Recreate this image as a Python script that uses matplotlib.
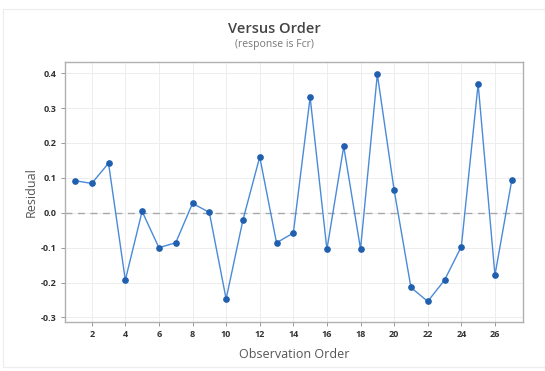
import matplotlib
matplotlib.use("Agg")
import matplotlib.pyplot as plt
from matplotlib.patches import Rectangle

order = list(range(1, 28))
residuals = [0.092, 0.084, 0.142, -0.193, 0.004, -0.100, -0.086, 0.027, 0.001,
             -0.247, -0.021, 0.160, -0.086, -0.058, 0.331, -0.105, 0.190, -0.104,
             0.397, 0.065, -0.214, -0.254, -0.193, -0.097, 0.369, -0.179, 0.093]
xticks = list(range(2, 27, 2))
yticks = [-0.3, -0.2, -0.1, 0.0, 0.1, 0.2, 0.3, 0.4]

plt.rcParams['font.family'] = ['Open Sans', 'DejaVu Sans']

fig = plt.figure(figsize=(5.45, 3.71), dpi=100)
fig.patch.set_facecolor('white')
fig.add_artist(Rectangle((3/545, 1-367/371), 1.0, (367-9)/371, transform=fig.transFigure,
                         fill=False, edgecolor='#ececec', linewidth=0.8))

ax = fig.add_axes([65/545, 1-322/371, 458/545, 260/371])
ax.set_xlim(0.41, 27.67)
ax.set_ylim(-0.313, 0.432)

ax.plot(order, residuals, color='#4a8ad8', linewidth=1.0, zorder=3)
ax.plot(order, residuals, linestyle='none', marker='o', markersize=3.8,
        color='#1f5fae', zorder=4)
ax.axhline(0, color='#a8a8a8', linestyle=(0, (5, 4)), linewidth=1.0, zorder=2)

ax.set_xticks(xticks)
ax.set_yticks(yticks)
ax.set_yticklabels(['-0.3', '-0.2', '-0.1', '0.0', '0.1', '0.2', '0.3', '0.4'])
ax.grid(True, color='#ededed', linewidth=0.7, zorder=0)
ax.set_axisbelow(True)
ax.tick_params(axis='both', length=3, width=0.6, color='#888888', labelsize=6.5,
               labelcolor='#333333', pad=3)
for lab in ax.get_xticklabels() + ax.get_yticklabels():
    lab.set_fontweight('bold')
for s in ax.spines.values():
    s.set_color('#b0b0b0')
    s.set_linewidth(1.0)

ax.set_xlabel('Observation Order', fontsize=9, color='#555555', labelpad=6)
ax.set_ylabel('Residual', fontsize=9, color='#555555', labelpad=2)

fig.text(0.503, 1-29/371, 'Versus Order', ha='center', va='center', fontsize=10.5,
         fontweight='semibold', color='#444444')
fig.text(0.503, 1-45/371, '(response is Fcr)', ha='center', va='center', fontsize=7.5,
         color='#777777')

fig.savefig('out.png', dpi=100, facecolor='white')
